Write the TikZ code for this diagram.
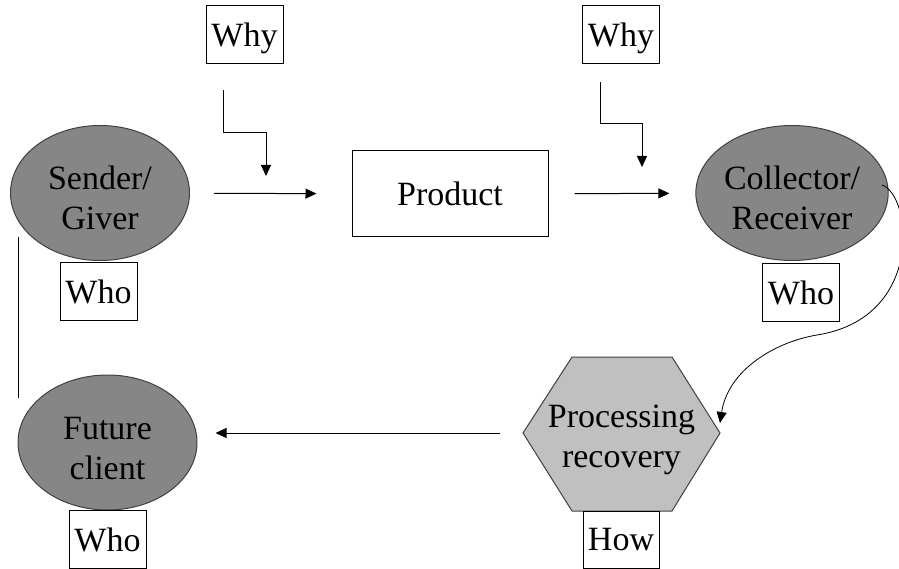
\documentclass[tikz,border=0pt]{standalone}
\usepackage{fontspec}
\setmainfont{Liberation Serif}
\usetikzlibrary{shapes.geometric,arrows.meta}
\definecolor{partygray}{HTML}{868686}
\definecolor{hexgray}{HTML}{C0C0C0}

\begin{document}
\begin{tikzpicture}[x=1pt,y=-1pt,line width=1pt,
  every node/.style={font=\rmfamily\fontsize{34}{40}\selectfont},
  party/.style={ellipse,draw=black!75,fill=partygray,minimum width=179pt,minimum height=135pt,inner sep=0pt,align=center,text height=74pt},
  tag/.style={rectangle,draw,fill=white,minimum width=77pt,minimum height=58pt,inner sep=0pt,text depth=0pt},
  arr/.style={-{Triangle[length=11pt,width=10pt]}}]
\useasboundingbox (0,0) rectangle (899,569);

\node[party] at (100,193) (sender) {Sender/\\Giver};
\node[party] at (792,193) (collector) {Collector/\\Receiver};
\node[party] at (107.5,442.5) (future) {Future\\client};
\node[draw,minimum width=196pt,minimum height=86pt] at (450,194) (product) {Product};
\node[tag] at (244.5,35) (why1) {Why};
\node[tag] at (621,35) (why2) {Why};
\node[tag] at (98.5,291.5) (who1) {Who};
\node[tag] at (801,292.5) (who2) {Who};
\node[tag] at (107.5,539.5) (who3) {Who};

\coordinate (h1) at (523,433);
\coordinate (h2) at (572,357);
\coordinate (h3) at (672,357);
\coordinate (h4) at (720,433);
\coordinate (h5) at (672,511);
\coordinate (h6) at (572,511);
\filldraw[draw=black!75,fill=hexgray] (h1) -- (h2) -- (h3) -- (h4) -- (h5) -- (h6) -- cycle;
\node[align=center] at (621.5,440) (proc) {Processing\\recovery};
\node[tag,minimum width=76pt,minimum height=57pt] at (621,539.5) (how) {How};

\coordinate (e1) at (223,90);
\coordinate (e1t) at (266,176);
\coordinate (e2) at (600,82);
\coordinate (e2t) at (642,167);
\draw[arr] (e1) -- ++(0,43) -| (e1t);
\draw[arr] (e2) -- ++(0,42) -| (e2t);

\draw[arr,shorten <=24pt,shorten >=35pt] (sender) -- (product);
\draw[arr,shorten <=26pt,shorten >=26pt] (product) -- (collector);
\draw[arr,shorten <=23pt,shorten >=18pt] (h1) -- (h1 -| future.east);

\coordinate (c0) at (882,185);
\coordinate (bend) at (817,335);
\coordinate (c1) at (720,423);
\draw[arr,line width=0.8pt] (c0) .. controls (912,195) and (925,318) .. (bend) .. controls (775,342) and (728,370) .. (c1);

\coordinate (v1) at (18,237);
\coordinate (v2) at (18,398);
\draw (v1) -- (v2);
\end{tikzpicture}
\end{document}
